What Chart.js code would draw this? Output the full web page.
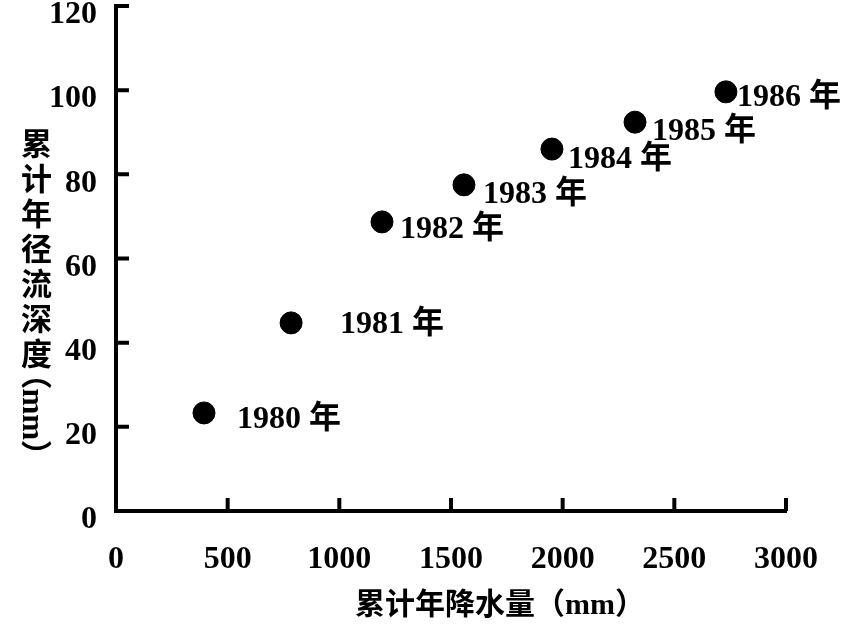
<!DOCTYPE html>
<html>
<head>
<meta charset="utf-8">
<script src="https://cdn.jsdelivr.net/npm/chart.js@4"></script>
<style>
  body { margin: 0; background: #fff; }
  #wrap { position: relative; width: 853px; height: 634px; }
  .title { position: absolute; font: bold 31px "Liberation Serif", "Noto Sans CJK SC"; color: #000; line-height: 1; white-space: nowrap; }
  #ytitle { left: 18px; top: 128px; writing-mode: vertical-rl; text-orientation: mixed; letter-spacing: 4px; }
  #ytitle .unit { letter-spacing: 0; font-feature-settings: "vhal" 1; }
  #xtitle { left: 355px; top: 589px; font-size: 30px; }
</style>
</head>
<body>
<div id="wrap">
  <canvas id="grafico" width="853" height="634"></canvas>
  <div class="title" id="ytitle">累计年径流深度<span class="unit">（mm）</span></div>
  <div class="title" id="xtitle">累计年降水量（mm）</div>
</div>
<script>
// Datos
const years = ['1980 年', '1981 年', '1982 年', '1983 年', '1984 年', '1985 年', '1986 年'];
const lluviaAcum = [394, 784, 1191, 1558, 1952, 2324, 2731];   // mm
const escorrentia = [23.3, 44.7, 68.7, 77.5, 86.0, 92.4, 99.6]; // mm
const xTicks = [0, 500, 1000, 1500, 2000, 2500, 3000];
const yTicks = [0, 20, 40, 60, 80, 100, 120];

// Desplazamiento de cada etiqueta respecto a su punto (solo estilo)
const labelDx = [33, 49, 18, 19, 16, 17, 11];
const labelDy = [7, 2, 8, 10, 11, 10, 6];

const FONT = '"Liberation Serif", "Noto Sans CJK SC"';

// Marcas de los ejes hacia dentro + etiquetas de los años
const inwardTicks = {
    id: 'inwardTicks',
    afterDraw(chart) {
        const { ctx, chartArea, scales: { x, y } } = chart;
        ctx.save();
        ctx.strokeStyle = '#000';
        ctx.lineWidth = 4;
        ctx.beginPath();
        xTicks.forEach(v => {
            if (v === 0) return;
            const px = x.getPixelForValue(v);
            ctx.moveTo(px, chartArea.bottom);
            ctx.lineTo(px, chartArea.bottom - 13);
        });
        yTicks.forEach(v => {
            if (v === 0) return;
            const py = y.getPixelForValue(v);
            ctx.moveTo(chartArea.left, py);
            ctx.lineTo(chartArea.left + 13, py);
        });
        ctx.stroke();

        // Etiquetas
        const meta = chart.getDatasetMeta(0);
        ctx.fillStyle = '#000';
        ctx.font = 'bold 32px ' + FONT;
        ctx.textAlign = 'left';
        ctx.textBaseline = 'middle';
        meta.data.forEach((pt, i) => {
            ctx.fillText(years[i], pt.x + labelDx[i], pt.y + labelDy[i]);
        });
        ctx.restore();
    }
};

const ctx = document.getElementById('grafico').getContext('2d');
new Chart(ctx, {
    type: 'scatter',
    data: {
        datasets: [{
            data: lluviaAcum.map((v, i) => ({ x: v, y: escorrentia[i] })),
            backgroundColor: '#000',
            borderColor: '#000',
            pointRadius: 11,
            pointHoverRadius: 11
        }]
    },
    options: {
        responsive: false,
        animation: false,
        events: [],
        layout: { autoPadding: false, padding: { top: 6, right: 67, left: 0, bottom: 0 } },
        plugins: { legend: { display: false }, tooltip: { enabled: false } },
        scales: {
            x: {
                type: 'linear', min: 0, max: 3000,
                afterBuildTicks: s => { s.ticks = xTicks.map(v => ({ value: v })); },
                afterFit: s => { s.height = 123; s.paddingLeft = 0; s.paddingRight = 0; },
                grid: { display: false },
                border: { display: true, color: '#000', width: 4 },
                ticks: { color: '#000', padding: 22, maxRotation: 0, callback: v => String(v), font: { family: FONT, size: 32, weight: 'bold' } }
            },
            y: {
                type: 'linear', min: 0, max: 120,
                afterBuildTicks: s => { s.ticks = yTicks.map(v => ({ value: v })); },
                afterFit: s => { s.width = 116; s.paddingTop = 0; s.paddingBottom = 0; },
                grid: { display: false },
                border: { display: true, color: '#000', width: 4 },
                ticks: { color: '#000', padding: 11, labelOffset: 9, callback: v => String(v), font: { family: FONT, size: 32, weight: 'bold' } }
            }
        }
    },
    plugins: [inwardTicks]
});
</script>
</body>
</html>
